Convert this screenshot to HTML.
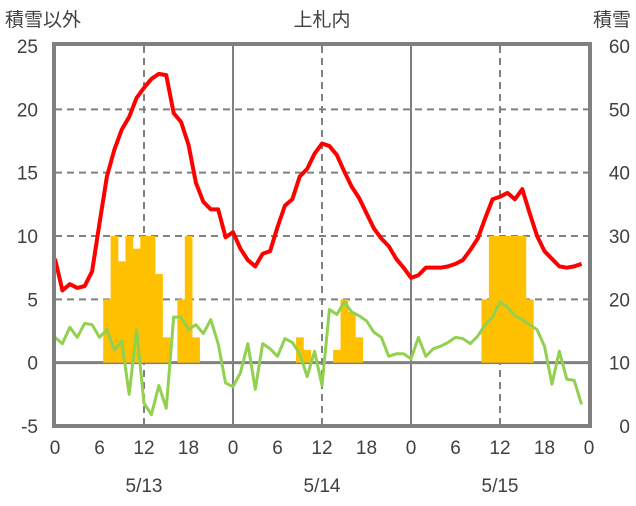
<!DOCTYPE html>
<html><head><meta charset="utf-8"><style>
body{margin:0;background:#fff;}
svg text{font-family:"Liberation Sans","Noto Sans CJK JP",sans-serif;fill:#404040;}
</style></head><body>
<svg id="chart" width="636" height="501" viewBox="0 0 636 501" xmlns="http://www.w3.org/2000/svg">
<g id="grid"></g>
<g id="bars"></g>
<g id="lines"></g>
<g id="axes"></g>
<text x="5" y="26" font-size="19">積雪以外</text>
<text x="322" y="26" font-size="19" text-anchor="middle">上札内</text>
<text x="631" y="26" font-size="19" text-anchor="end">積雪</text>
</svg>
<script>
const leftTicks=[-5,0,5,10,15,20,25];
const rightTicks=[0,10,20,30,40,50,60];
const hourLabels=[0,6,12,18,0,6,12,18,0,6,12,18,0];
const dateLabels=["5/13","5/14","5/15"];
const temperature=[8.2,5.7,6.2,5.9,6.05,7.2,11,14.7,16.8,18.4,19.4,20.9,21.7,22.4,22.8,22.7,19.7,19.0,17.2,14.2,12.7,12.1,12.1,9.9,
10.3,9.0,8.1,7.6,8.6,8.8,10.7,12.4,12.9,14.7,15.3,16.5,17.3,17.1,16.4,15.1,13.9,13.0,11.8,10.6,9.8,9.2,8.2,7.5,
6.7,6.9,7.5,7.5,7.5,7.6,7.8,8.1,8.9,9.8,11.4,12.9,13.1,13.4,12.9,13.7,11.8,10.0,8.8,8.2,7.6,7.5,7.6,7.8];
const other=[2.0,1.5,2.8,2.0,3.1,3.0,2.0,2.6,1.0,1.7,-2.5,2.6,-3.2,-4.1,-1.8,-3.6,3.6,3.6,2.6,3.0,2.3,3.4,1.5,-1.6,
-1.9,-0.8,1.5,-2.1,1.5,1.1,0.5,1.9,1.6,0.7,-1.1,0.9,-1.8,4.2,3.8,4.8,4.0,3.7,3.3,2.4,2.0,0.5,0.7,0.7,
0.3,2.0,0.5,1.1,1.3,1.6,2.0,1.9,1.5,2.1,3.0,3.6,4.8,4.4,3.7,3.4,3.0,2.6,1.3,-1.7,0.9,-1.3,-1.4,-3.3];
const snowHours=[7,8,9,10,11,12,13,14,15,17,18,19,33,34,38,39,40,41,58,59,60,61,62,63,64];
const snowDepth=[20,30,26,30,28,30,30,24,14,20,30,14,14,12,12,20,18,14,20,30,30,30,30,30,20];

const X0=55,X1=589,YT=46,YB=426;
const xs=h=>X0+(X1-X0)*h/72;
const yl=v=>YB-(YB-YT)*(v+5)/30;
const yr=d=>YB-(YB-YT)*d/60;
const NS="http://www.w3.org/2000/svg";
function mk(parent,tag,attrs){const e=document.createElementNS(NS,tag);for(const k in attrs)e.setAttribute(k,attrs[k]);document.getElementById(parent).appendChild(e);return e;}

// grid
[5,10,15,20].forEach(v=>{const e=mk('grid','line',{x1:X0,x2:X1,y1:yl(v),y2:yl(v),stroke:'#808080','stroke-width':2,'stroke-dasharray':'7,5'});

});
[12,36,60].forEach(h=>{const e=mk('grid','line',{x1:xs(h),x2:xs(h),y1:YT,y2:YB,stroke:'#808080','stroke-width':2,'stroke-dasharray':'7,5'});

});
[24,48].forEach(h=>{const e=mk('grid','line',{x1:xs(h),x2:xs(h),y1:YT,y2:YB,stroke:'#808080','stroke-width':2});

});

// bars (base at snow depth 10 = zero line)
const bw=(X1-X0)/72;
snowHours.forEach((h,i)=>{const d=snowDepth[i];const y0=yr(10),y1=yr(d);
const e=mk('bars','rect',{x:xs(h)-bw/2,y:Math.min(y0,y1),width:bw+0.3,height:Math.abs(y0-y1),fill:'#FFC000'});

});

// zero line
{const e=mk('grid','line',{x1:X0,x2:X1,y1:yl(0),y2:yl(0),stroke:'#808080','stroke-width':3});

}

// lines
const g=mk('lines','polyline',{points:other.map((v,i)=>xs(i)+','+yl(v)).join(' '),fill:'none',stroke:'#92D050','stroke-width':3,'stroke-linejoin':'round'});


const r=mk('lines','polyline',{points:temperature.map((v,i)=>xs(i)+','+yl(v)).join(' '),fill:'none',stroke:'#FF0000','stroke-width':4,'stroke-linejoin':'round'});



// frame
{const e=mk('axes','rect',{x:X0-1,y:YT-2,width:X1-X0+2,height:YB-YT+2,fill:'none',stroke:'#808080','stroke-width':4});

}

// tick labels
leftTicks.forEach(v=>{const t=mk('axes','text',{x:38,y:yl(v)+7,'font-size':19,'text-anchor':'end'});t.textContent=v;

});
rightTicks.forEach(v=>{const t=mk('axes','text',{x:630,y:yr(v)+7,'font-size':19,'text-anchor':'end'});t.textContent=v;

});
hourLabels.forEach((v,i)=>{const t=mk('axes','text',{x:xs(i*6),y:454,'font-size':19,'text-anchor':'middle'});t.textContent=v;

});
dateLabels.forEach((v,i)=>{const t=mk('axes','text',{x:xs(12+24*i),y:492,'font-size':19,'text-anchor':'middle'});t.textContent=v;

});
</script>
</body></html>
